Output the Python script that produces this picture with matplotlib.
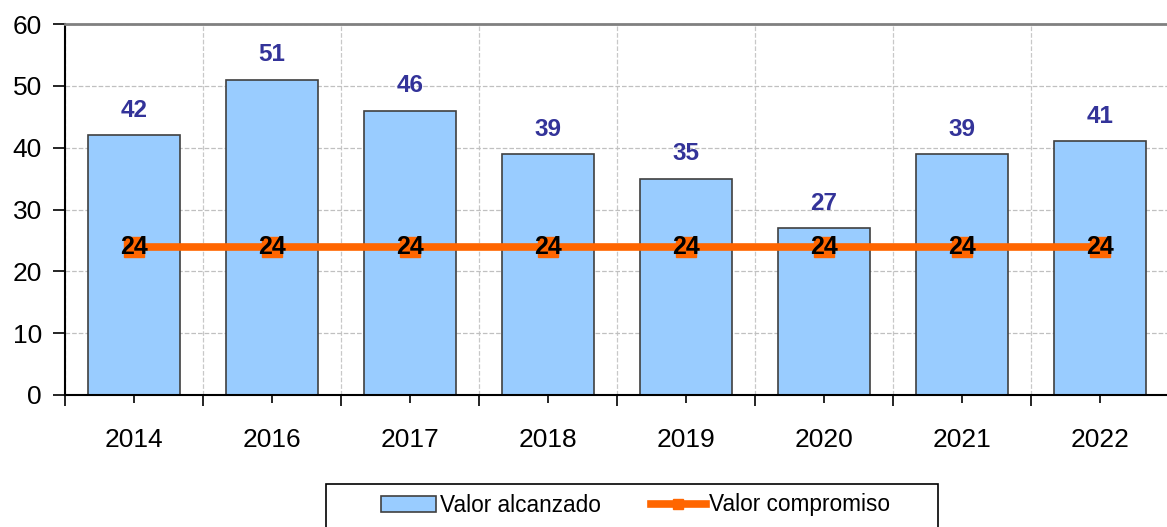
import matplotlib
matplotlib.use("Agg")
import matplotlib.pyplot as plt
from matplotlib.patches import Rectangle
import numpy as np

matplotlib.rcParams["font.family"] = ["Liberation Sans", "DejaVu Sans"]

years = ["2014", "2016", "2017", "2018", "2019", "2020", "2021", "2022"]
alcanzado = [42, 51, 46, 39, 35, 27, 39, 41]
compromiso = [24, 24, 24, 24, 24, 24, 24, 24]

W, H = 1167, 527
fig = plt.figure(figsize=(W / 100, H / 100), dpi=100)
ax = fig.add_axes([65 / W, 132 / H, 1104 / W, 371 / H])

x = np.arange(len(years))

bars = ax.bar(x, alcanzado, width=0.67, color="#99CCFF", edgecolor="#404040",
              linewidth=1.2, label="Valor alcanzado", zorder=2)
line, = ax.plot(x, compromiso, color="#FF6600", linewidth=5.5, marker="s",
                markersize=14, label="Valor compromiso", zorder=3)

for xi, v in zip(x, alcanzado):
    ax.text(xi, v + 4, str(v), ha="center", va="center", fontsize=17.5,
            fontweight="bold", color="#333399")
for xi, v in zip(x, compromiso):
    ax.text(xi, v, str(v), ha="center", va="center", fontsize=18,
            fontweight="bold", color="black", zorder=4)

ax.set_xlim(-0.5, len(years) - 0.5)
ax.set_ylim(0, 60)
ax.set_yticks(range(0, 61, 10))
ax.tick_params(axis="y", labelsize=19, length=8.5, width=1.2, pad=8)

ax.set_xticks(x)
ax.set_xticklabels(years, fontsize=19)
ax.set_xticks(np.arange(-0.5, len(years)), minor=True)
ax.tick_params(axis="x", which="major", length=6, width=1.2, pad=18)
ax.tick_params(axis="x", which="minor", length=8, width=1.2)

ax.grid(axis="y", linestyle="--", color="#C0C0C0", linewidth=0.9, zorder=0)
ax.grid(axis="x", which="minor", linestyle="--", color="#C8C8C8",
        linewidth=0.9, zorder=0)
ax.set_axisbelow(True)

ax.spines["top"].set_color("#808080")
ax.spines["top"].set_linewidth(2)
ax.spines["right"].set_visible(False)
ax.spines["left"].set_linewidth(1.5)
ax.spines["bottom"].set_linewidth(1.5)

# legend box
fig.patches.append(Rectangle((326 / W, -0.05), (938 - 326) / W, 0.05 + (H - 484) / H,
                             transform=fig.transFigure, facecolor="white",
                             edgecolor="black", linewidth=1.2))
fig.legend([bars, line], ["Valor alcanzado", "Valor compromiso"],
           loc="center left", bbox_to_anchor=(381 / W, 1 - 505 / H),
           ncol=2, fontsize=16.3, frameon=False, borderpad=0, borderaxespad=0,
           handlelength=2.45, handletextpad=0.15, columnspacing=2.2,
           markerscale=0.5)

plt.savefig("out.png", dpi=100)
